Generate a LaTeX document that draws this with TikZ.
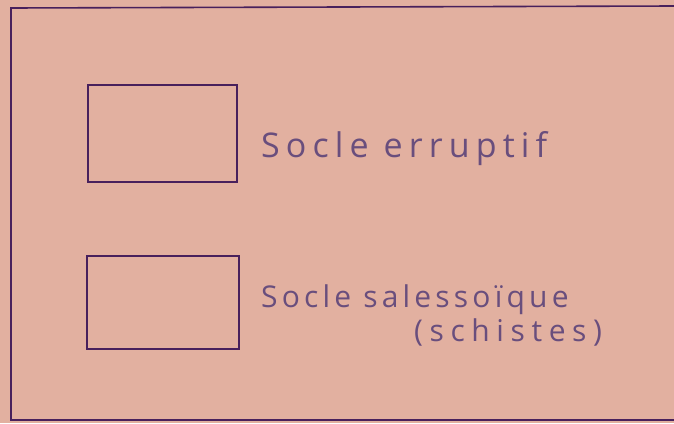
\documentclass[tikz,border=0pt]{standalone}
\usepackage{fontspec}
\setmainfont{Open Sans}
\newfontfamily\handfontA[LetterSpace=18]{Open Sans}
\newfontfamily\handfontB[LetterSpace=14]{Open Sans}
\newfontfamily\handfontC[LetterSpace=22]{Open Sans}
\definecolor{paper}{RGB}{226,176,160}
\definecolor{ink}{RGB}{72,32,92}
\definecolor{pencil}{RGB}{105,78,125}
\tikzset{
  frameline/.style={draw=ink, line width=1.6pt},
  legendbox/.style={draw=ink, line width=1.8pt},
  legendtext/.style={text=pencil, inner sep=0pt, anchor=base west},
}
\begin{document}
\begin{tikzpicture}[x=1pt,y=-1pt]
\fill[paper] (0,0) rectangle (674,423);
\useasboundingbox (0,0) rectangle (674,423);
\coordinate (ftr) at (676,6);
\coordinate (ftl) at (11,8);
\coordinate (fbl) at (11,420);
\coordinate (fbr) at (676,420);
\draw[frameline] (ftr) -- (ftl) -- (fbl) -- (fbr);
\node[legendbox, minimum width=149pt, minimum height=97pt, anchor=north west, inner sep=0pt] (b1) at (87,84) {};
\node[legendbox, minimum width=152pt, minimum height=93pt, anchor=north west, inner sep=0pt] (b2) at (86,255) {};
\node[legendtext, font=\handfontA\fontsize{34}{36}\selectfont] (t1) at (261,157) {Socle erruptif};
\node[legendtext, font=\handfontB\fontsize{30}{32}\selectfont] (t2) at (261,307) {Socle salessoïque};
\node[legendtext, font=\handfontC\fontsize{30}{32}\selectfont] (t3) at (414,341) {(schistes)};
\end{tikzpicture}
\end{document}
